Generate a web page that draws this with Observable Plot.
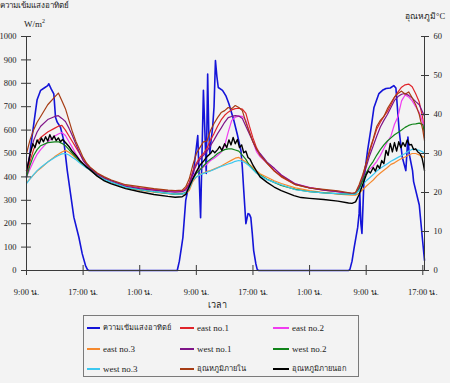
<!DOCTYPE html>
<html><head><meta charset="utf-8">
<script src="https://cdn.jsdelivr.net/npm/d3@7"></script>
<script src="https://cdn.jsdelivr.net/npm/@observablehq/plot@0.6"></script>
<style>
html,body{margin:0;padding:0;background:#f3f3f3;}
#wrap{position:relative;width:450px;height:383px;overflow:hidden;font-family:"Liberation Serif","DejaVu Serif",serif;color:#222;}
#chart{position:absolute;left:0;top:0;}
.lab{position:absolute;font-size:10px;white-space:nowrap;line-height:1;}
#legend{position:absolute;left:83px;top:315px;width:276px;height:62px;border:1px solid #7a7a7a;box-sizing:border-box;}
.item{position:absolute;font-size:9px;white-space:nowrap;display:flex;align-items:center;height:12px;line-height:1;}
.sw{display:inline-block;height:2px;margin-right:3px;}
</style></head><body>
<div id="wrap">
  <div id="chart"></div>
  <div class="lab" id="ttl" style="left:0;top:2px;font-size:8px;">ความเข้มแสงอาทิตย์</div>
  <div class="lab" id="unitL" style="left:24px;top:18px;font-size:9px;">W/m<sup style="font-size:6px">2</sup></div>
  <div class="lab" id="ttlR" style="left:405px;top:12px;font-size:8.5px;">อุณหภูมิ°C</div>
  <div class="lab" id="xl" style="left:208px;top:301px;font-size:9px;">เวลา</div>
  <div id="legend"></div>
</div>
<script>
// ---- data ----
const timeTicks = [0, 8, 16, 24, 32, 40, 48, 56];
const timeLabels = ["9:00 น.", "17:00 น.", "1:00 น.", "9:00 น.", "17:00 น.", "1:00 น.", "9:00 น.", "17:00 น."];
const wTicks = [0, 100, 200, 300, 400, 500, 600, 700, 800, 900, 1000];
const cTicks = [0, 10, 20, 30, 40, 50, 60];
const xMax = 56.24;

// solar radiation (W/m2), hours after 9:00 of day 1
const sunT = [0,0.3,0.6,1,1.5,2,2.5,3,3.15,3.5,3.86,4.1,4.34,4.8,5.27,5.76,6.22,6.69,7.4,7.87,8.34,8.6,8.8,
  21.3,21.6,21.9,22.1,22.5,22.9,23.2,23.6,23.9,24.2,24.4,24.6,24.8,25,25.2,25.4,25.6,25.75,25.9,26.1,26.3,26.5,26.7,26.9,
  27.1,27.7,28.2,28.6,29.3,29.8,30.3,30.5,30.7,31,31.3,31.5,31.7,31.9,32.1,32.4,32.6,32.8,
  45.5,45.7,46,46.3,46.8,47,47.1,47.25,47.4,47.7,48.2,48.7,49.1,49.8,50.3,50.8,51.4,51.9,52.2,52.66,53.1,53.6,53.9,54.07,54.55,54.7,55.5,55.97,56.24];
const sunV = [400,450,530,620,730,770,780,790,798,775,755,655,634,612,555,427,329,228,142,72,21,5,0,
  0,40,100,141,300,360,372,420,500,577,400,226,500,770,600,415,840,600,500,560,611,700,897,830,
  782,770,745,713,641,580,513,440,342,200,243,240,226,160,85,30,5,0,
  0,5,40,98,184,243,329,200,158,397,513,611,697,756,770,778,780,790,780,598,484,427,570,500,427,380,280,128,43];

// temperatures (°C) on a shared time grid
const hours = [0,0.5,1,1.5,2, 3,4,4.5,5,5.5, 6,6.5,7,7.5,8, 8.5,9,10,11,12, 14,16,18,20,21, 22,22.5,23,23.5,24,
  24.5,25,25.5,26,26.5, 27,27.5,28,28.5,29, 29.5,30,30.5,31,31.5, 32,32.5,33,34,35, 36,38,40,42,44,
  46,46.5,47,47.5,48, 48.5,49,49.5,50,50.5, 51,51.5,52,52.5,53, 53.5,54,54.5,55,55.5, 56,56.24];
const indoor = [30,33.5,36,38,39.5, 42.5,44.5,45.5,43.5,41.5, 38.5,35.5,33,31,29, 27.5,26.5,25,24,23.2, 22,21.5,21,20.6,20.5,
  20.6,21.5,23.5,27,30, 31.5,33,33.2,35.9,37.7, 39.2,40.5,41,41.8,41.5, 42.3,41.8,41,38,35.5, 33,31.2,29.5,27.5,25.6,
  24.2,22,21.2,20.8,20.4, 19.8,20,22,24.5,27.5, 31,33.8,37,38.5,39.5, 41.5,43,44.5,45.4,46, 45.2,45.8,44.3,42.5,40, 36,33.3];
const east1 = [24.9,28,31,33,34.1, 35.5,36.5,37,37.2,36, 34.5,33,31.5,30,28.5, 27.3,26.3,24.8,23.8,23, 21.8,21.2,20.8,20.4,20.3,
  20.4,21,22.5,25.5,27.5, 29,30,31.3,33.5,35.1, 37,38.6,39.8,40.6,41.2, 41.5,41.6,41.4,40.3,37, 34,31.5,29.8,27.5,25.5,
  24,22,21.2,20.6,20.2, 19.7,19.9,21.5,24,27.5, 30.5,33.5,36.3,38,39.5, 40.8,42.5,44.4,45.8,47, 47.6,47.8,47.1,45.3,43.2, 39,34.1];
const west1 = [25.6,30,33.3,35.5,37, 38.7,39.5,39.7,39,38.2, 36.5,34.5,32.3,30.2,28.2, 27,26.2,24.7,23.7,23, 21.6,21,20.6,20.2,20.1,
  20.2,20.7,22,25,27, 28.5,29.5,30.6,32,33.5, 35.1,36.5,38,39.2,39.5, 39.7,39.6,39,37,35, 33,31,30,27.8,26.2,
  24.5,22.2,21.2,20.6,20.2, 19.7,19.8,21.2,23.5,26.5, 29.5,32,34.5,36.8,38.5, 40,41.8,43.6,44.6,45.2, 45.4,44.9,44.2,43.3,42.5, 40.5,39.5];
const east2 = [24,26,28,29.8,31, 33,34.5,35,35.4,34.6, 33,31.5,29.8,28.5,27.3, 26.5,25.8,24.5,23.5,22.8, 21.6,21,20.6,20.3,20.2,
  20.2,20.5,21.5,24,25.5, 26,26.5,27.3,28.2,28.8, 29.5,30.3,32,35.5,38.5, 39.3,39.6,39.5,38.5,35.5, 33,30.5,29.2,27.5,26.2,
  24.5,22.2,21.3,20.7,20.2, 19.7,19.8,21,23.5,25, 26,26.8,28,29.5,31.3, 33,34.5,37.5,39.5,43.5, 45,44.5,43.5,42,40.5, 38,36.5];
const west2 = [23.9,27,29.5,31,32, 32.8,33,33,32.6,32, 31,30,29,28,27.2, 26.5,25.8,24.3,23.3,22.6, 21.3,20.7,20.2,19.8,19.6,
  19.7,20,21.2,23.5,24.9, 25.8,26.8,27.8,28.5,29.2, 30,30.5,31,31.2,31.2, 30.9,30.6,29.6,28.5,27, 26,25,24.5,23.4,22.6,
  21.8,20.8,20.2,19.9,19.7, 19.5,19.6,20.8,23,25, 26.7,28,29.6,31,32.2, 33.2,34,34.8,35.4,36, 36.7,37.2,37.5,37.6,37.8, 37.4,35.5];
const east3 = [22.6,23.5,24.5,25.5,26.2, 27.8,29.2,29.8,30.4,30.8, 30.3,29.6,28.8,27.9,27.1, 26.4,25.7,24.2,23.2,22.5, 21.2,20.6,20.1,19.7,19.5,
  19.5,19.7,20.5,22.8,24, 24.6,25,25.4,25.6,26, 26.4,26.8,27.3,27.8,28.3, 28.8,29,28.4,27.8,27.2, 26.4,25.6,24.8,23.9,23,
  22.3,21.2,20.5,20,19.6, 19.3,19.3,19.8,20.7,21.6, 22.4,23.2,24.2,25,25.7, 26.4,27.2,27.6,28.2,28.7, 29.1,29.6,30,30,29.6, 29.2,29];
const west3 = [22.3,23.5,24.6,25.6,26.4, 27.8,29,29.5,29.9,30, 29.6,29,28.4,27.6,26.9, 26.3,25.7,24.3,23.3,22.6, 21.3,20.7,20.2,19.8,19.6,
  19.6,19.9,21,23.2,24, 24.5,24.9,25.2,25.5,25.9, 26.3,26.7,27,27.3,27.6, 28,28.2,28,27.5,26.8, 25.8,25,24.3,23.3,22.6,
  22,20.7,20.2,19.9,19.7, 19.5,19.6,20.5,22,23, 23.8,24.6,25.5,26.2,26.8, 27.4,28,28.5,29,29.5, 30,30.6,31.1,31,30.8, 30.4,30];

// outdoor temperature (°C), denser sampling
const outT = [0,0.3,0.6,0.9,1.2,1.5,1.8,2.1,2.4,2.7,3,3.3,3.6,3.9,4.2,4.5,4.8,5.1,5.5,6,6.5,7,7.5,8,8.5,9,10,11,12,14,16,18,20,21,22,
  22.5,23,23.5,24,24.5,25,25.5,26,26.3,26.6,27,27.3,27.6,28,28.3,28.6,28.9,29.2,29.5,29.8,30.1,30.4,30.7,31,31.3,31.6,32,32.5,33,34,
  35,36,37.8,38.8,40,42,44,45.5,46,46.5,47,47.5,48,48.3,48.6,49,49.3,49.6,49.9,50.2,50.5,50.8,51.1,51.4,51.7,52,52.3,52.6,52.9,53.2,
  53.5,53.8,54.1,54.4,54.7,55,55.3,55.6,55.9,56.1,56.24];
const outV = [25.6,28,30.5,32.5,31.5,33.5,32.5,34,33,34.3,33.2,34.8,33.5,34.5,33.3,34,33,33.6,32.8,31.8,30.5,29.5,28.3,27.4,26.5,25.8,24.2,23,22.2,21,20.2,19.5,19,18.8,18.9,
  19.5,21.5,23.5,25.3,27,28,29.2,30,30.8,30.2,31,31.8,30.8,32.5,31.5,33.5,32.2,34.1,32.5,33.6,31.5,32.2,30.2,30.6,29,28.5,27,25.5,24,22.6,
  21.4,20.5,19.2,18.7,18.5,18.2,17.8,17.3,17.2,17.6,19.5,22,24.5,25.5,25,26.4,25.5,27,26.2,28.2,27.4,30.8,29.5,32.6,30.4,32.8,30.6,33,31.5,32.8,
  31.8,33.5,32.2,32.3,31,31.2,30.4,30,28.8,27,25.6];

const sunName = "ความเข้มแสงอาทิตย์";
const legendOrder = [sunName, "east no.1", "east no.2", "east no.3", "west no.1", "west no.2", "west no.3", "อุณหภูมิภายใน", "อุณหภูมิภายนอก"];
const colors = ["#1414d8", "#e0242a", "#f03cf0", "#f5892e", "#7e1488", "#11841a", "#3cc8f0", "#a63c14", "#000000"];

// ---- build ----
const cToW = c => c * 1000 / 60;
const zip = (t, v, name) => t.slice(0, Math.min(t.length, v.length)).map((h, i) => ({h, v: v[i], name}));
const sunRows = zip(sunT, sunV, sunName);
const tempSeries = [["east no.1", east1], ["east no.2", east2], ["east no.3", east3], ["west no.1", west1], ["west no.2", west2], ["west no.3", west3], ["อุณหภูมิภายใน", indoor]];
const tempRows = tempSeries.flatMap(([n, vals]) => zip(hours, vals.map(cToW), n));
const outRows = zip(outT, outV.map(cToW), "อุณหภูมิภายนอก");
const axisColor = "#3a3a3a";

const chart = Plot.plot({
  width: 450, height: 305,
  marginLeft: 26, marginRight: 26, marginTop: 36, marginBottom: 35,
  style: {background: "transparent", fontFamily: "'Liberation Serif','DejaVu Serif',serif", fontSize: "8.5px", color: "#222", overflow: "visible"},
  x: {domain: [0, xMax]},
  y: {domain: [0, 1000]},
  color: {domain: legendOrder, range: colors},
  marks: [
    Plot.line(sunRows, {x: "h", y: "v", stroke: "name", strokeWidth: 1.6}),
    Plot.line(tempRows, {x: "h", y: "v", z: "name", stroke: "name", strokeWidth: 1.2}),
    Plot.line(outRows, {x: "h", y: "v", stroke: "name", strokeWidth: 1.4}),
    Plot.ruleY([0], {stroke: axisColor}),
    Plot.ruleX([0, xMax], {stroke: axisColor}),
    Plot.axisY(wTicks, {anchor: "left", tickSize: 10, dx: 5, fill: "none", stroke: axisColor, label: null}),
    Plot.axisY(wTicks, {anchor: "left", tickSize: 0, tickPadding: 10, tickFormat: d => String(d), label: null}),
    Plot.axisY(cTicks.map(cToW), {anchor: "right", tickSize: 8, dx: -4, fill: "none", stroke: axisColor, label: null}),
    Plot.axisY(cTicks.map(cToW), {anchor: "right", tickSize: 0, tickPadding: 9, tickFormat: d => String(Math.round(d * 60 / 1000)), label: null}),
    Plot.axisX(timeTicks, {anchor: "bottom", tickSize: 10, dy: -5, fill: "none", stroke: axisColor, label: null}),
    Plot.axisX(timeTicks, {anchor: "bottom", tickSize: 0, tickPadding: 18, tickFormat: d => timeLabels[timeTicks.indexOf(d)], label: null})
  ]
});
document.getElementById("chart").appendChild(chart);

// legend (3 columns x 3 rows)
const legend = document.getElementById("legend");
const colX = [3, 96, 189], rowY = [6, 27, 47], swW = [13, 14, 16];
legendOrder.forEach((name, i) => {
  const r = Math.floor(i / 3), c = i % 3;
  const it = document.createElement("div");
  it.className = "item";
  it.style.left = colX[c] + "px";
  it.style.top = rowY[r] + "px";
  if (/[\u0E00-\u0E7F]/.test(name)) it.style.fontSize = "7.5px";
  const sw = document.createElement("span");
  sw.className = "sw";
  sw.style.width = swW[c] + "px";
  sw.style.background = colors[i];
  it.appendChild(sw);
  const tx = document.createElement("span");
  tx.textContent = name;
  it.appendChild(tx);
  legend.appendChild(it);
});
</script>
</body></html>
